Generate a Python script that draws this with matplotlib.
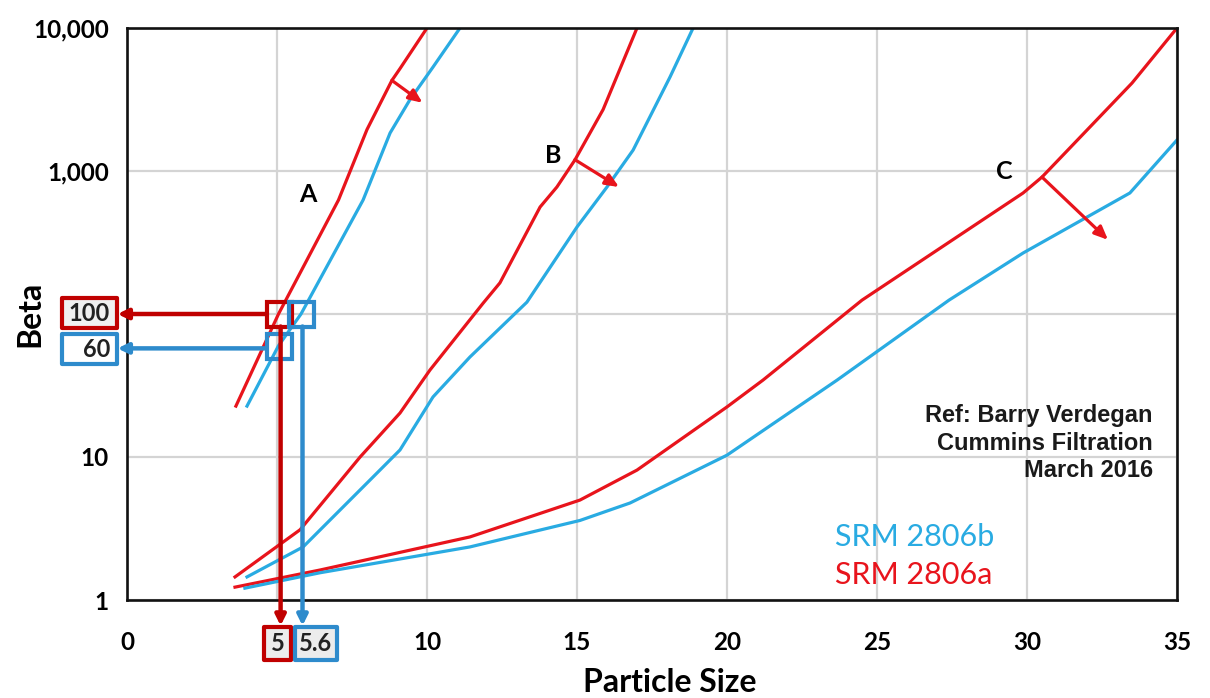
import matplotlib.pyplot as plt
from matplotlib.patches import Rectangle

# Beta ratio vs particle size for three filters (A, B, C), two calibrations
a_red_x = [3.63, 5.05, 7.05, 8.0, 8.83, 9.1, 10.0]
a_red_y = [22.7, 100, 627, 1950, 4300, 5200, 10000]
a_blue_x = [4.0, 5.05, 5.8, 7.87, 8.77, 9.43, 10.2, 11.1]
a_blue_y = [22.7, 60, 100, 627, 1845, 3150, 5330, 10000]

b_red_x = [3.6, 5.77, 7.77, 9.1, 10.1, 11.87, 12.43, 13.77, 14.33, 14.93, 15.87, 17.0]
b_red_y = [1.45, 3.1, 10, 20.3, 40.6, 119, 165, 560, 773, 1194, 2690, 10000]
b_blue_x = [4.0, 5.87, 8.1, 9.1, 10.2, 11.43, 13.33, 15.0, 16.0, 16.87, 18.1, 18.87]
b_blue_y = [1.45, 2.35, 6.9, 11.2, 26.3, 50, 121, 406, 773, 1400, 4540, 10000]

c_red_x = [3.6, 6.43, 11.43, 15.1, 17.0, 20.0, 21.2, 24.5, 29.87, 30.5, 33.5, 35.0]
c_red_y = [1.23, 1.62, 2.76, 5.0, 8.1, 22.4, 34.5, 125, 702, 907, 4120, 10000]
c_blue_x = [3.93, 6.43, 11.43, 15.1, 16.77, 20.0, 23.67, 27.4, 29.87, 33.43, 35.0]
c_blue_y = [1.21, 1.55, 2.35, 3.6, 4.77, 10.3, 34.5, 125, 267, 702, 1648]

x_ticks = [0, 5, 10, 15, 20, 25, 30, 35]
x_labels = ['0', '', '10', '15', '20', '25', '30', '35']
y_ticks = [1, 10, 100, 1000, 10000]
y_labels = ['1', '10', '', '1,000', '10,000']

# curve labels and the "shift" arrows (start, end)
curve_names = ['A', 'B', 'C']
name_pos = [(6.03, 680), (14.2, 1290), (29.23, 990)]
shift_start = [(8.83, 4300), (14.93, 1200), (30.5, 907)]
shift_end = [(9.85, 3000), (16.4, 773), (32.7, 330)]

RED = '#e8141c'
BLUE = '#29abe2'
DRED = '#c00000'
DBLUE = '#2e8bcc'

fig = plt.figure(figsize=(12.1, 6.98), dpi=100)
ax = fig.add_axes([127 / 1210, 98 / 698, 1050 / 1210, 572 / 698])

for xs, ys, col in [(a_red_x, a_red_y, RED), (a_blue_x, a_blue_y, BLUE),
                    (b_red_x, b_red_y, RED), (b_blue_x, b_blue_y, BLUE),
                    (c_red_x, c_red_y, RED), (c_blue_x, c_blue_y, BLUE)]:
    ax.plot(xs, ys, color=col, lw=2.3, solid_joinstyle='round')

ax.set_yscale('log')
ax.set_xlim(0, 35)
ax.set_ylim(1, 10000)
ax.set_xticks(x_ticks)
ax.set_xticklabels(x_labels)
ax.set_yticks(y_ticks)
ax.set_yticklabels(y_labels)
ax.minorticks_off()
ax.tick_params(length=0, labelsize=17.5)
ax.tick_params(axis='x', pad=22)
ax.tick_params(axis='y', pad=13)
for lab in ax.get_xticklabels() + ax.get_yticklabels():
    lab.set_fontfamily('Lato')
    lab.set_fontweight('bold')
ax.grid(True, color='#d4d4d4', lw=1.6)
ax.set_axisbelow(True)
for sp in ax.spines.values():
    sp.set_linewidth(1.9)
    sp.set_color('#111111')

fig.text(30 / 1210, 1 - 314 / 698, 'Beta', fontsize=23, fontweight='bold', family='Lato',
         rotation=90, ha='center', va='center')
fig.text(670 / 1210, 1 - 682 / 698, 'Particle Size', fontsize=23, fontweight='bold',
         family='Lato', ha='center', va='center')

for name, (nx, ny), s, e in zip(curve_names, name_pos, shift_start, shift_end):
    ax.text(nx, ny, name, fontsize=18, fontweight='bold', family='Lato', ha='center', va='center')
    ax.annotate('', xy=e, xytext=s,
                arrowprops=dict(arrowstyle='-|>,head_length=0.8,head_width=0.35', color=RED,
                                lw=2.3, shrinkA=0, shrinkB=0))

# read-off markers: red at (5, 100), blue at (5.6, 100) and (5, 60)
ax.plot([5.05], [100], marker='s', ms=18, mfc='none', mec=DRED, mew=3, clip_on=False, zorder=5)
ax.plot([5.8], [100], marker='s', ms=18, mfc='none', mec=DBLUE, mew=3, clip_on=False, zorder=5)
ax.plot([5.05], [60], marker='s', ms=18, mfc='none', mec=DBLUE, mew=3, clip_on=False, zorder=5)

arr = dict(arrowstyle='-|>,head_length=0.6,head_width=0.3', lw=3.2, shrinkB=0)
ax.annotate('', xy=(-0.009, 100), xycoords=('axes fraction', 'data'), xytext=(5.05, 100),
            textcoords='data', arrowprops=dict(arr, color=DRED, shrinkA=9), annotation_clip=False)
ax.annotate('', xy=(-0.009, 57.5), xycoords=('axes fraction', 'data'), xytext=(5.05, 57.5),
            textcoords='data', arrowprops=dict(arr, color=DBLUE, shrinkA=9), annotation_clip=False)
ax.annotate('', xy=(5.85, -0.045), xycoords=('data', 'axes fraction'), xytext=(5.85, 100),
            textcoords='data', arrowprops=dict(arr, color=DBLUE, shrinkA=9), annotation_clip=False,
            zorder=6)
ax.annotate('', xy=(5.12, -0.045), xycoords=('data', 'axes fraction'), xytext=(5.12, 100),
            textcoords='data', arrowprops=dict(arr, color=DRED, shrinkA=9), annotation_clip=False,
            zorder=7)

# boxed read-off values
boxes = [(-0.0619, 0.4755, 0.0524, 0.0524, DRED, '#f0f0f0'),
         (-0.0619, 0.4126, 0.0524, 0.0524, DBLUE, 'white'),
         (0.1305, -0.1049, 0.0257, 0.0577, DRED, '#ececec'),
         (0.1600, -0.1049, 0.0400, 0.0577, DBLUE, '#ececec')]
for bx, by, bw, bh, ec, fc in boxes:
    ax.add_patch(Rectangle((bx, by), bw, bh, transform=ax.transAxes, clip_on=False,
                           ec=ec, fc=fc, lw=3, joinstyle='round', zorder=8))
box_text = [(-0.0362, 0.5017, '100', 'center'), (-0.0162, 0.4388, '60', 'right'),
            (0.1434, -0.0760, '5', 'center'), (0.1800, -0.0760, '5.6', 'center')]
for tx, ty, s, ha in box_text:
    ax.text(tx, ty, s, transform=ax.transAxes, fontsize=17, fontweight='bold', family='Lato',
            ha=ha, va='center', color='#222222', zorder=9)

ax.text(0.977, 0.274, 'Ref: Barry Verdegan\nCummins Filtration\nMarch 2016',
        transform=ax.transAxes, ha='right', va='center', fontsize=17, fontweight='bold',
        family='Liberation Sans', color='#1a1a1a', linespacing=1.25)
ax.text(0.674, 0.110, 'SRM 2806b', transform=ax.transAxes, color=BLUE, fontsize=22,
        family='Lato', ha='left', va='center')
ax.text(0.674, 0.044, 'SRM 2806a', transform=ax.transAxes, color=RED, fontsize=22,
        family='Lato', ha='left', va='center')

fig.savefig('out.png', dpi=100)
